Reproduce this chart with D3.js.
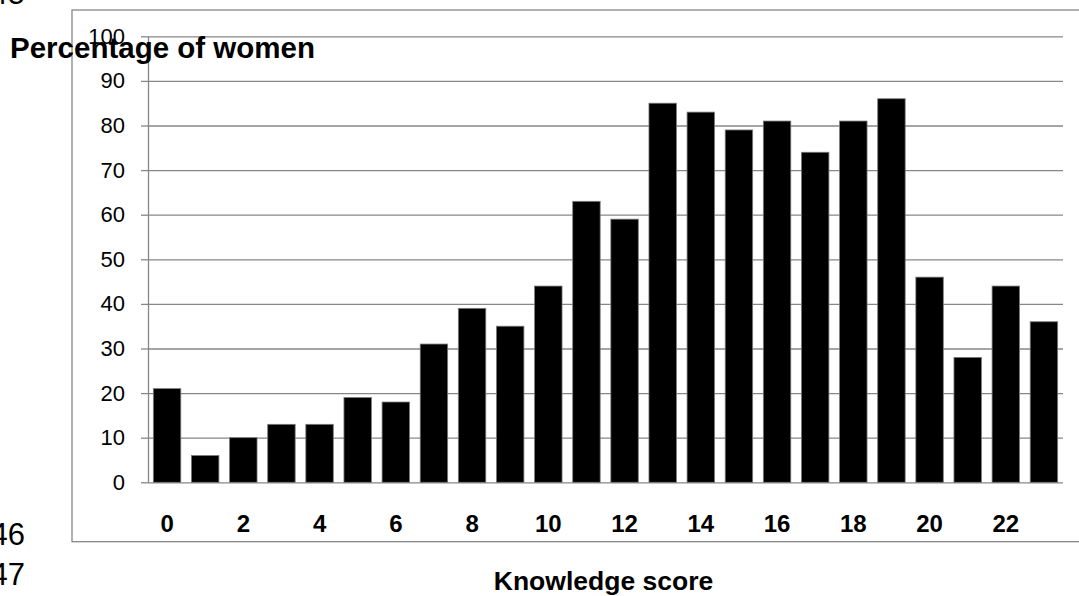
<!DOCTYPE html>
<html>
<head>
<meta charset="utf-8">
<script src="https://cdn.jsdelivr.net/npm/d3@7"></script>
<style>
  body { margin: 0; background: #fff; }
  svg { display: block; font-family: "Liberation Sans", Arial, sans-serif; }
</style>
</head>
<body>
<svg id="chart" width="1079" height="596"></svg>
<script>
// chart data
const scores = d3.range(0, 24);
const percentWomen = [21, 6, 10, 13, 13, 19, 18, 31, 39, 35, 44, 63, 59, 85, 83, 79, 81, 74, 81, 86, 46, 28, 44, 36];
const yTicks = [0, 10, 20, 30, 40, 50, 60, 70, 80, 90, 100];
const xTickLabels = [0, 2, 4, 6, 8, 10, 12, 14, 16, 18, 20, 22];
const lineNumbers = ["45", "46", "47"];

const svg = d3.select("#chart");
const gridColor = "#878787";

const plot = { left: 148, right: 1063, top: 36.3, bottom: 482.3 };

const x = d3.scaleBand()
  .domain(scores)
  .range([plot.left, plot.right])
  .paddingInner(0.28)
  .paddingOuter(0.14);

const y = d3.scaleLinear()
  .domain([0, 100])
  .range([plot.bottom, plot.top]);

// document line numbers around the figure
svg.selectAll("text.lineno")
  .data(lineNumbers)
  .join("text")
  .attr("class", "lineno")
  .attr("x", 25)
  .attr("y", (d, i) => [4, 545, 585][i])
  .attr("text-anchor", "end")
  .style("font-size", "31px")
  .style("fill", "#000")
  .text(d => d);

// chart frame
svg.append("rect")
  .attr("x", 72)
  .attr("y", 10)
  .attr("width", 1030)
  .attr("height", 531.7)
  .attr("fill", "none")
  .attr("stroke", gridColor)
  .attr("stroke-width", 1.3);

// gridlines
svg.append("g")
  .attr("transform", `translate(${plot.left},0)`)
  .call(d3.axisLeft(y).tickValues(yTicks).tickSize(-(plot.right - plot.left)).tickFormat(""))
  .call(g => g.select(".domain").remove())
  .call(g => g.selectAll("line").attr("stroke", gridColor).attr("stroke-width", 1.3));

// y axis with labels
svg.append("g")
  .attr("transform", `translate(${plot.left},0)`)
  .call(d3.axisLeft(y).tickValues(yTicks).tickSizeInner(7).tickSizeOuter(0).tickPadding(16))
  .call(g => g.select(".domain").attr("stroke", gridColor).attr("stroke-width", 1.3))
  .call(g => g.selectAll("line").attr("stroke", gridColor).attr("stroke-width", 1.3))
  .call(g => g.selectAll("text")
    .style("font-size", "22px")
    .style("font-family", "'Liberation Sans', Arial, sans-serif")
    .attr("fill", "#000"));

// bars
svg.append("g")
  .selectAll("rect")
  .data(percentWomen)
  .join("rect")
  .attr("x", (d, i) => x(scores[i]))
  .attr("y", d => y(d))
  .attr("width", x.bandwidth())
  .attr("height", d => y(0) - y(d))
  .attr("fill", "#000")
  .attr("stroke", "#7a7a7a")
  .attr("stroke-width", 0.8);

// x axis labels
svg.append("g")
  .attr("transform", `translate(0,${plot.bottom})`)
  .call(d3.axisBottom(x).tickValues(xTickLabels).tickSize(0).tickPadding(33))
  .call(g => g.select(".domain").remove())
  .call(g => g.selectAll("text")
    .style("font-size", "24px")
    .style("font-weight", "bold")
    .style("font-family", "'Liberation Sans', Arial, sans-serif")
    .attr("fill", "#000"));

// axis titles
svg.append("text")
  .attr("x", 10)
  .attr("y", 58)
  .style("font-size", "29.5px")
  .style("font-weight", "bold")
  .style("fill", "#000")
  .text("Percentage of women");

svg.append("text")
  .attr("x", (plot.left + plot.right) / 2 - 2)
  .attr("y", 590)
  .attr("text-anchor", "middle")
  .style("font-size", "26.5px")
  .style("font-weight", "bold")
  .style("fill", "#000")
  .text("Knowledge score");
</script>
</body>
</html>
